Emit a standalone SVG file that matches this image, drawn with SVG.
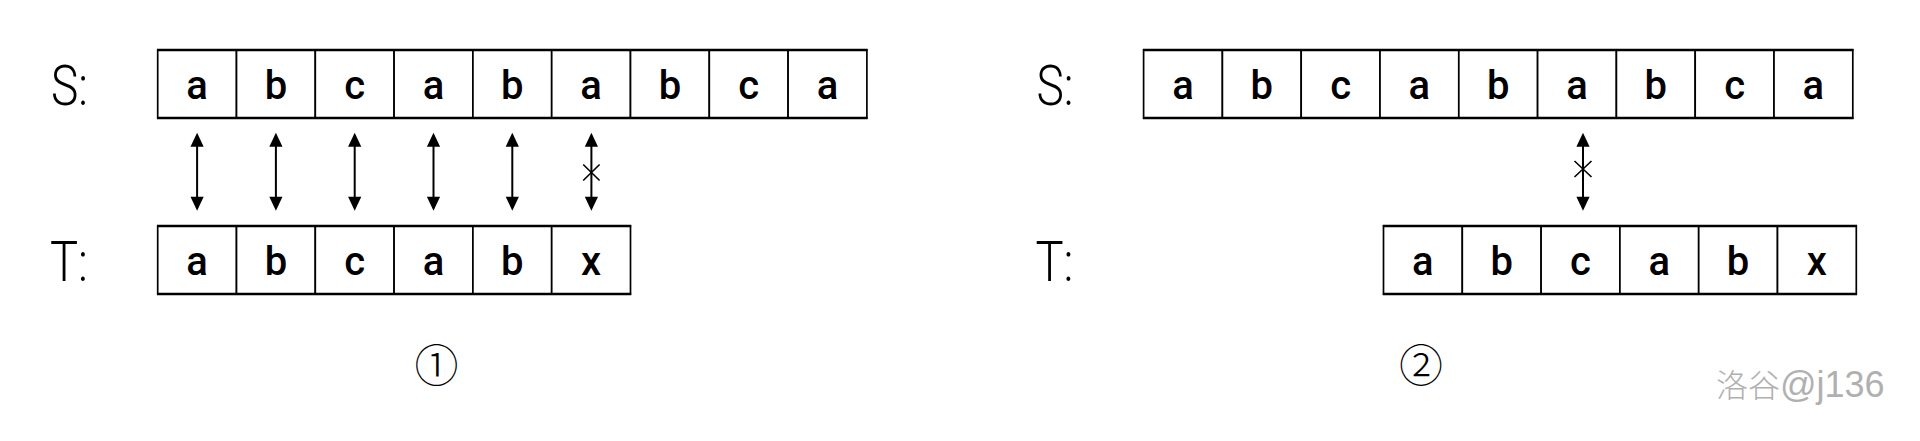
<svg xmlns="http://www.w3.org/2000/svg" width="1920" height="441" viewBox="0 0 1920 441">
<style>
.cell rect{fill:#fff;stroke:#000;stroke-width:1.7}
.edge{stroke:#000;stroke-width:2.7}
.ch{font-family:Roboto,"Liberation Sans",sans-serif;font-weight:500;font-size:40px;fill:#000;text-anchor:middle}
.lbl{font-family:Roboto,"Liberation Sans",sans-serif;font-weight:300;font-size:55px;fill:#000}
.arr{stroke:#000;stroke-width:2;fill:none}
.cross{stroke:#000;stroke-width:1.6;fill:none}
.num{font-family:"Noto Sans CJK SC","Noto Sans CJK JP",sans-serif;font-size:44px;font-weight:300;fill:#000;text-anchor:middle}
.wm{font-family:"Liberation Sans","Noto Sans CJK SC",sans-serif;fill:#b0b0b0}
</style>
<defs>
<marker id="ah" markerUnits="userSpaceOnUse" markerWidth="20" markerHeight="20" orient="auto-start-reverse" refX="0" refY="0" overflow="visible">
<path d="M3,0 L-11,-6.6 L-11,6.6 Z" fill="#000"/>
</marker>
</defs>
<rect width="1920" height="441" fill="#fff"/>

<!-- Panel 1 -->
<text class="lbl" x="51" y="105" textLength="37" lengthAdjust="spacingAndGlyphs">S:</text>
<text class="lbl" x="50" y="281" textLength="38" lengthAdjust="spacingAndGlyphs">T:</text>

<g id="p1-S">
<g id="p1-S1" class="cell"><rect x="157.7" y="50" width="78.8" height="68"/><text class="ch" x="197.1" y="98.5">a</text></g>
<g id="p1-S2" class="cell"><rect x="236.5" y="50" width="78.8" height="68"/><text class="ch" x="275.9" y="98.5">b</text></g>
<g id="p1-S3" class="cell"><rect x="315.3" y="50" width="78.8" height="68"/><text class="ch" x="354.7" y="98.5">c</text></g>
<g id="p1-S4" class="cell"><rect x="394.1" y="50" width="78.8" height="68"/><text class="ch" x="433.5" y="98.5">a</text></g>
<g id="p1-S5" class="cell"><rect x="472.9" y="50" width="78.8" height="68"/><text class="ch" x="512.3" y="98.5">b</text></g>
<g id="p1-S6" class="cell"><rect x="551.7" y="50" width="78.8" height="68"/><text class="ch" x="591.1" y="98.5">a</text></g>
<g id="p1-S7" class="cell"><rect x="630.5" y="50" width="78.8" height="68"/><text class="ch" x="669.9" y="98.5">b</text></g>
<g id="p1-S8" class="cell"><rect x="709.3" y="50" width="78.8" height="68"/><text class="ch" x="748.7" y="98.5">c</text></g>
<g id="p1-S9" class="cell"><rect x="788.1" y="50" width="78.8" height="68"/><text class="ch" x="827.5" y="98.5">a</text></g>
<line class="edge" x1="157" y1="50" x2="867.6" y2="50"/>
<line class="edge" x1="157" y1="118" x2="867.6" y2="118"/>
</g>

<g id="p1-T">
<g id="p1-T1" class="cell"><rect x="157.7" y="226" width="78.8" height="68"/><text class="ch" x="197.1" y="274.5">a</text></g>
<g id="p1-T2" class="cell"><rect x="236.5" y="226" width="78.8" height="68"/><text class="ch" x="275.9" y="274.5">b</text></g>
<g id="p1-T3" class="cell"><rect x="315.3" y="226" width="78.8" height="68"/><text class="ch" x="354.7" y="274.5">c</text></g>
<g id="p1-T4" class="cell"><rect x="394.1" y="226" width="78.8" height="68"/><text class="ch" x="433.5" y="274.5">a</text></g>
<g id="p1-T5" class="cell"><rect x="472.9" y="226" width="78.8" height="68"/><text class="ch" x="512.3" y="274.5">b</text></g>
<g id="p1-T6" class="cell"><rect x="551.7" y="226" width="78.8" height="68"/><text class="ch" x="591.1" y="274.5">x</text></g>
<line class="edge" x1="157" y1="226" x2="631.2" y2="226"/>
<line class="edge" x1="157" y1="294" x2="631.2" y2="294"/>
</g>

<text id="p1-num" class="num" x="436.5" y="382">①</text>

<!-- Panel 2 -->
<text class="lbl" x="1036.5" y="105" textLength="37" lengthAdjust="spacingAndGlyphs">S:</text>
<text class="lbl" x="1035.5" y="281" textLength="38" lengthAdjust="spacingAndGlyphs">T:</text>

<g id="p2-S">
<g id="p2-S1" class="cell"><rect x="1143.6" y="50" width="78.8" height="68"/><text class="ch" x="1183" y="98.5">a</text></g>
<g id="p2-S2" class="cell"><rect x="1222.4" y="50" width="78.8" height="68"/><text class="ch" x="1261.8" y="98.5">b</text></g>
<g id="p2-S3" class="cell"><rect x="1301.2" y="50" width="78.8" height="68"/><text class="ch" x="1340.6" y="98.5">c</text></g>
<g id="p2-S4" class="cell"><rect x="1380" y="50" width="78.8" height="68"/><text class="ch" x="1419.4" y="98.5">a</text></g>
<g id="p2-S5" class="cell"><rect x="1458.8" y="50" width="78.8" height="68"/><text class="ch" x="1498.2" y="98.5">b</text></g>
<g id="p2-S6" class="cell"><rect x="1537.6" y="50" width="78.8" height="68"/><text class="ch" x="1577" y="98.5">a</text></g>
<g id="p2-S7" class="cell"><rect x="1616.4" y="50" width="78.8" height="68"/><text class="ch" x="1655.8" y="98.5">b</text></g>
<g id="p2-S8" class="cell"><rect x="1695.2" y="50" width="78.8" height="68"/><text class="ch" x="1734.6" y="98.5">c</text></g>
<g id="p2-S9" class="cell"><rect x="1774" y="50" width="78.8" height="68"/><text class="ch" x="1813.4" y="98.5">a</text></g>
<line class="edge" x1="1142.9" y1="50" x2="1853.5" y2="50"/>
<line class="edge" x1="1142.9" y1="118" x2="1853.5" y2="118"/>
</g>

<g id="p2-T">
<g id="p2-T1" class="cell"><rect x="1383.5" y="226" width="78.8" height="68"/><text class="ch" x="1422.9" y="274.5">a</text></g>
<g id="p2-T2" class="cell"><rect x="1462.3" y="226" width="78.8" height="68"/><text class="ch" x="1501.7" y="274.5">b</text></g>
<g id="p2-T3" class="cell"><rect x="1541.1" y="226" width="78.8" height="68"/><text class="ch" x="1580.5" y="274.5">c</text></g>
<g id="p2-T4" class="cell"><rect x="1619.9" y="226" width="78.8" height="68"/><text class="ch" x="1659.3" y="274.5">a</text></g>
<g id="p2-T5" class="cell"><rect x="1698.7" y="226" width="78.8" height="68"/><text class="ch" x="1738.1" y="274.5">b</text></g>
<g id="p2-T6" class="cell"><rect x="1777.5" y="226" width="78.8" height="68"/><text class="ch" x="1816.9" y="274.5">x</text></g>
<line class="edge" x1="1382.8" y1="226" x2="1857" y2="226"/>
<line class="edge" x1="1382.8" y1="294" x2="1857" y2="294"/>
</g>

<text id="p2-num" class="num" x="1421" y="382">②</text>

<g id="connectors">
<line class="arr" x1="197.1" y1="135.7" x2="197.1" y2="207.7" marker-start="url(#ah)" marker-end="url(#ah)"/>
<line class="arr" x1="275.9" y1="135.7" x2="275.9" y2="207.7" marker-start="url(#ah)" marker-end="url(#ah)"/>
<line class="arr" x1="354.7" y1="135.7" x2="354.7" y2="207.7" marker-start="url(#ah)" marker-end="url(#ah)"/>
<line class="arr" x1="433.5" y1="135.7" x2="433.5" y2="207.7" marker-start="url(#ah)" marker-end="url(#ah)"/>
<line class="arr" x1="512.3" y1="135.7" x2="512.3" y2="207.7" marker-start="url(#ah)" marker-end="url(#ah)"/>
<line class="arr" x1="591.4" y1="135.7" x2="591.4" y2="207.7" marker-start="url(#ah)" marker-end="url(#ah)"/>
<path class="cross" d="M583.2,164.5 L599.6,180.5 M599.6,164.5 L583.2,180.5"/>
<line class="arr" x1="1583" y1="135.7" x2="1583" y2="207.7" marker-start="url(#ah)" marker-end="url(#ah)"/>
<path class="cross" d="M1574.5,161 L1591.5,177 M1591.5,161 L1574.5,177"/>
</g>

<text class="wm" x="1716" y="397"><tspan font-size="32" font-family="'Noto Sans CJK SC',sans-serif" font-weight="300">洛谷</tspan><tspan font-size="36">@j136</tspan></text>
</svg>
